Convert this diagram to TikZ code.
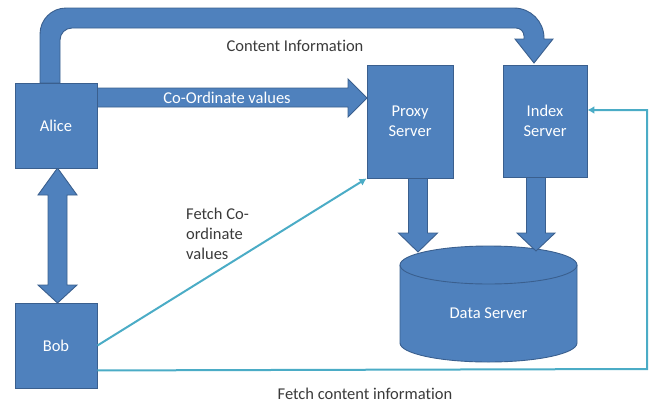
\documentclass[tikz,border=0pt]{standalone}
\usepackage{fontspec}
\setmainfont[Ligatures=NoCommon]{Carlito}
\usetikzlibrary{arrows.meta,calc}
\definecolor{boxblue}{HTML}{4F81BD}
\definecolor{boxedge}{HTML}{3A5F8E}
\definecolor{linecyan}{HTML}{4BACC6}
\definecolor{textgray}{HTML}{3A3A3A}
\tikzset{
  blockshape/.style={fill=boxblue,draw=boxedge,line width=0.9pt,line join=miter},
  boxnode/.style={blockshape,rectangle,inner sep=0pt,text=white,align=center,font=\fontsize{16.5}{20}\selectfont},
  wtext/.style={text=white,inner sep=0pt,align=center,font=\fontsize{16.5}{20}\selectfont},
  gtext/.style={text=textgray,inner sep=0pt,align=left,font=\fontsize{16.5}{20}\selectfont},
  cyanline/.style={draw=linecyan,line width=2pt,-{Latex[length=7pt,width=8pt]}},
}
\begin{document}
\begin{tikzpicture}[x=1pt,y=-1pt]
\useasboundingbox (0,0) rectangle (656,405);
% data server cylinder
\path[blockshape] (400,265) -- (400,343) arc (180:0:88.5 and 19) -- (577,265) arc (0:-180:88.5 and 19) -- cycle;
\draw[boxedge,line width=0.9pt] (400,265) arc (180:0:88.5 and 19);
\node[wtext] (data) at (488.5,313) {Data Server};
% down block arrows
\path[blockshape] (408.5,177) -- (408.5,233) -- (398.5,233) -- (418,252) -- (437.5,233) -- (427.5,233) -- (427.5,177) -- cycle;
\path[blockshape] (526.5,177) -- (526.5,233) -- (517,233) -- (536,251) -- (555,233) -- (545.5,233) -- (545.5,177) -- cycle;
% Alice-Bob double arrow
\path[blockshape] (48,195) -- (38,195) -- (57.5,168) -- (77,195) -- (67,195) -- (67,285) -- (77,285) -- (57.5,303) -- (38,285) -- (48,285) -- cycle;
% Co-Ordinate values arrow
\path[blockshape] (97,88) -- (348,88) -- (348,79) -- (367,98) -- (348,117) -- (348,107) -- (97,107) -- cycle;
% Content information curved arrow
\path[blockshape] (40,83) -- (40,34) arc (180:270:26) -- (514,8) arc (270:360:30) -- (544,39) -- (553,39) -- (534,63) -- (515,39) -- (524,39) -- (524,36) arc (0:-90:8) -- (72,28) arc (-90:-180:12) -- (60,83) -- cycle;
% boxes
\node[boxnode,minimum width=82pt,minimum height=85pt] (alice) at (56,125.5) {Alice};
\node[boxnode,minimum width=82pt,minimum height=85pt] (bob) at (56,345.5) {Bob};
\node[boxnode,minimum width=86pt,minimum height=113pt] (proxy) at (410,121.5) {Proxy\\Server};
\node[boxnode,minimum width=84pt,minimum height=112pt] (index) at (545,121) {Index\\Server};
% labels
\node[wtext] (colabel) at (227,98) {Co-Ordinate values};
\node[gtext] (cilabel) at (295,46) {Content Information};
\node[gtext,anchor=north west] (fetchco) at (186,208) {Fetch Co-\\ordinate\\values};
\node[gtext] (fetchci) at (365,394) {Fetch content information};
% cyan connectors
\draw[cyanline] (bob.east) -- (proxy.south west);
\coordinate (turn) at (647,369);
\draw[cyanline] ($(bob.south east)+(0,-18)$) -- (turn) -- (turn |- 0,110) -- ($(index.east)+(0,-11)$);
\end{tikzpicture}
\end{document}
